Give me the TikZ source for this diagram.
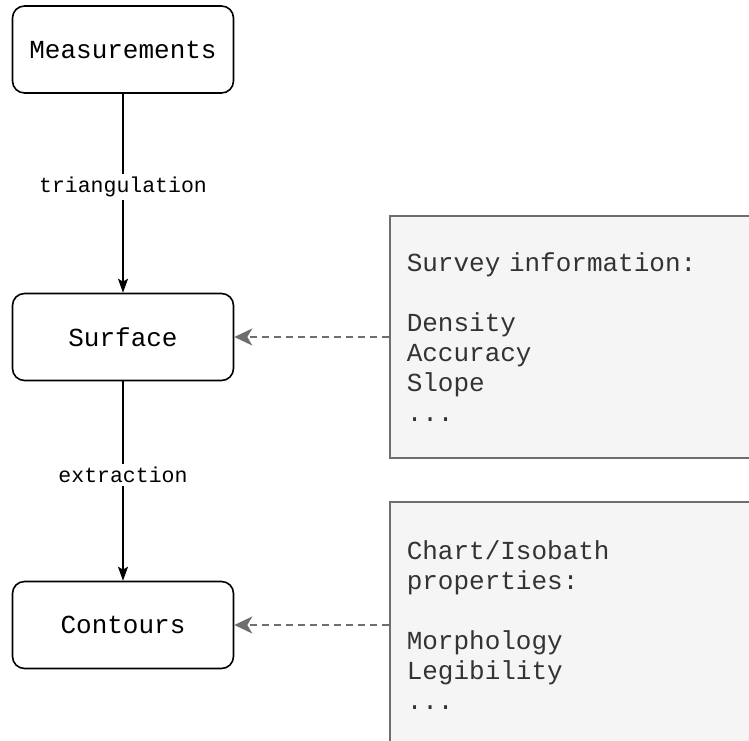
\documentclass[tikz,border=0pt]{standalone}
\usepackage{fontspec}
\setmonofont{Liberation Mono}
\usetikzlibrary{positioning,arrows.meta}
\definecolor{noteC}{HTML}{F5F5F5}
\definecolor{lineC}{HTML}{6E6E6E}
\definecolor{textC}{HTML}{333333}
\tikzset{
  stage/.style={draw, rounded corners=12pt, line width=1.6pt, font=\ttfamily\fontsize{26}{30}\selectfont,
                minimum width=221pt, minimum height=87pt},
  note/.style={draw=lineC, fill=noteC, line width=1.5pt, text=textC, align=left,
               font=\ttfamily\fontsize{26}{30}\selectfont, text width=366pt, inner xsep=17pt,
               minimum height=242pt, anchor=west},
  flow/.style={-{Stealth[length=14pt,width=10pt,inset=3pt]}, line width=1.6pt},
  feeds/.style={-{Stealth[length=18pt,width=17pt,inset=5pt]}, lineC, line width=1.5pt, dash pattern=on 7pt off 5pt},
  lbl/.style={font=\ttfamily\fontsize{21.5}{24}\selectfont, fill=white, inner sep=3pt},
}
\begin{document}
\begin{tikzpicture}[x=1pt, y=-1pt]
\useasboundingbox (0,0) rectangle (749,740);
\clip (0,0) rectangle (749,740);
\node[stage] (meas) at (123,49.5) {Measurements};
\node[stage] (surf) at (123,337) {Surface};
\node[stage] (cont) at (123,625) {Contours};
\node[note] (survey) at (389,337) {Survey information:\\[30pt]Density\\Accuracy\\Slope\\...};
\node[note, minimum height=246pt] (chart) at (389,625) {Chart/Isobath\\properties:\\[30pt]Morphology\\Legibility\\...};
\draw[flow] (meas) -- node[lbl, pos=0.47] {triangulation} (surf);
\draw[flow] (surf) -- node[lbl, pos=0.47] {extraction} (cont);
\draw[feeds] (survey.west) -- (surf.east);
\draw[feeds] (chart.west) -- (cont.east);
\end{tikzpicture}
\end{document}
